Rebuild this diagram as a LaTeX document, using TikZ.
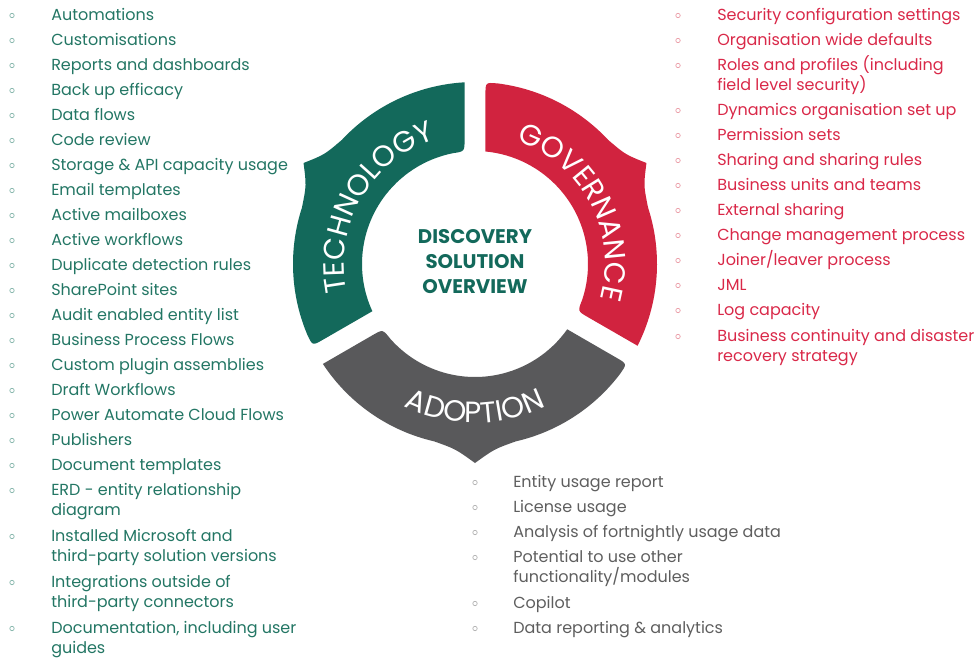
\documentclass[tikz,border=0pt]{standalone}
\usepackage{fontspec}
\setmainfont{Poppins}
\usetikzlibrary{calc,decorations.text}
\definecolor{techc}{HTML}{13695B}
\definecolor{govc}{HTML}{D1233F}
\definecolor{adoc}{HTML}{59595B}
\definecolor{techt}{HTML}{237664}
\definecolor{govt}{HTML}{D92848}
\definecolor{adot}{HTML}{5E5E5E}
\definecolor{techb}{HTML}{8AB8AE}
\definecolor{govb}{HTML}{EBA0AA}
\definecolor{adob}{HTML}{B5B5B5}
\newcommand\listfont{\fontsize{12}{15}\selectfont}
\newcommand\ringfont{\fontsize{22}{22}\selectfont}
\newcommand\centfont{\fontsize{14.8}{18.75}\selectfont\bfseries}
\newcommand\two[2]{\vtop{\hbox{#1}\hbox{#2}}}
\tikzset{
  litem/.style={anchor=base west, inner sep=0pt, font=\listfont},
  bullet/.style={draw, line width=0.55pt},
  ringtext/.style={decorate, decoration={text along path, text align=center, text color=white}}
}
\begin{document}
\begin{tikzpicture}[x=0.75pt,y=0.75pt]
\useasboundingbox (0,0) rectangle (974,-660);

\begin{scope}[shift={(475,-264)}]
% Technology
\fill[techc] (93.3:182) arc[start angle=93.3, end angle=137, radius=182]
  .. controls (144:186) .. (149.5:199) .. controls (155:186) .. (162:182)
  arc[start angle=162, end angle=202.7, radius=182]
  .. controls (206.7:182) .. ($(206.7:182)!9pt!(204.7:113)$)
  -- (204.7:113) arc[start angle=204.7, end angle=101.3, radius=113]
  .. controls (95.3:113) .. ($(95.3:113)!9pt!(93.3:182)$) -- cycle;
% Governance
\fill[govc] ($(86.7:182)!9pt!(84.7:113)$) .. controls (86.7:182) .. (82.7:182)
  arc[start angle=82.7, end angle=43, radius=182]
  .. controls (36:186) .. (30.5:199) .. controls (25:186) .. (18:182)
  arc[start angle=18, end angle=-26.7, radius=182]
  -- ($(-24.7:113)!9pt!(-26.7:182)$) .. controls (-24.7:113) .. (-18.7:113)
  arc[start angle=-18.7, end angle=84.7, radius=113] -- cycle;
% Adoption
\fill[adoc] ($(-33.3:182)!9pt!(-35.3:113)$) .. controls (-33.3:182) .. (-37.3:182)
  arc[start angle=-37.3, end angle=-77, radius=182]
  .. controls (-84:186) .. (-90:199) .. controls (-96:186) .. (-103:182)
  arc[start angle=-103, end angle=-146.7, radius=182]
  -- ($(-144.7:113)!9pt!(-146.7:182)$) .. controls (-144.7:113) .. (-138.7:113)
  arc[start angle=-138.7, end angle=-35.3, radius=113] -- cycle;

\path[ringtext, decoration={text={|\ringfont|TECHNOLOGY}}]
  (220:131) arc[start angle=220, end angle=80, radius=131];
\path[ringtext, decoration={text={|\ringfont|GOVERNANCE}}]
  (98:130) arc[start angle=98, end angle=-42, radius=130];
\path[ringtext, decoration={text={|\ringfont|ADOPTION}}]
  (200:159) arc[start angle=200, end angle=340, radius=159];
\end{scope}

\node[font=\centfont, text=techc, align=center] (centre) at (475,-261.5) {DISCOVERY\\SOLUTION\\OVERVIEW};

% Technology list
\foreach \y/\t [count=\i] in {15/Automations, 40/Customisations, 65/Reports and dashboards,
  90/Back up efficacy, 115/Data flows, 140/Code review, 165/Storage \& API capacity usage,
  190/Email templates, 215/Active mailboxes, 240/Active workflows, 265/Duplicate detection rules,
  290/SharePoint sites, 315/Audit enabled entity list, 340/Business Process Flows,
  365/Custom plugin assemblies, 390/Draft Workflows, 415/Power Automate Cloud Flows,
  440/Publishers, 465/Document templates, 490/{\two{ERD - entity relationship}{diagram}},
  536/{\two{Installed Microsoft and}{third-party solution versions}},
  582/{\two{Integrations outside of}{third-party connectors}},
  628/{\two{Documentation, including user}{guides}}} {
  \draw[bullet, techb] (12,-\y-0.5) circle[radius=2.2];
  \node[litem, text=techt] (tl\i) at (51,{-\y-5.7}) {\t};
}
% Governance list
\foreach \y/\t [count=\i] in {15/Security configuration settings, 40/Organisation wide defaults,
  65/{\two{Roles and profiles (including}{field level security)}}, 110/Dynamics organisation set up,
  135/Permission sets, 160/Sharing and sharing rules, 185/Business units and teams,
  210/External sharing, 235/Change management process, 260/{Joiner/leaver process},
  285/JML, 310/Log capacity, 336/{\two{Business continuity and disaster}{recovery strategy}}} {
  \draw[bullet, govb] (678,-\y-0.5) circle[radius=2.2];
  \node[litem, text=govt] (gl\i) at (717,{-\y-5.7}) {\t};
}
% Adoption list
\foreach \y/\t [count=\i] in {482/Entity usage report, 507/License usage,
  532/Analysis of fortnightly usage data, 557/{\two{Potential to use other}{functionality/modules}},
  603/Copilot, 628/Data reporting \& analytics} {
  \draw[bullet, adob] (475,-\y-0.5) circle[radius=2.2];
  \node[litem, text=adot] (al\i) at (513,{-\y-5.7}) {\t};
}
\end{tikzpicture}
\end{document}
